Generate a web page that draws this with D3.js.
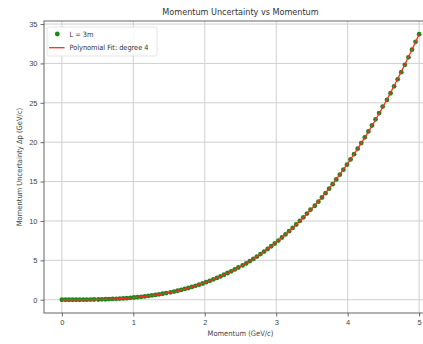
<!DOCTYPE html>
<html>
<head>
<meta charset="utf-8">
<script src="https://cdn.jsdelivr.net/npm/d3@7"></script>
<style>
  body { margin: 0; background: #fff; }
  svg { display: block; font-family: "DejaVu Sans Condensed", "DejaVu Sans", sans-serif; }
  .grid line { stroke: #cfcfcf; stroke-width: 1; }
  .tick text { fill: #444; }
</style>
</head>
<body>
<svg id="chart" width="423" height="344"></svg>
<script>
// Momentum (GeV/c), 100 samples
var momentum = [0.00,0.05,0.10,0.15,0.20,0.25,0.30,0.35,0.40,0.45,
                0.51,0.56,0.61,0.66,0.71,0.76,0.81,0.86,0.91,0.96,
                1.01,1.06,1.11,1.16,1.21,1.26,1.31,1.36,1.41,1.46,
                1.52,1.57,1.62,1.67,1.72,1.77,1.82,1.87,1.92,1.97,
                2.02,2.07,2.12,2.17,2.22,2.27,2.32,2.37,2.42,2.47,
                2.53,2.58,2.63,2.68,2.73,2.78,2.83,2.88,2.93,2.98,
                3.03,3.08,3.13,3.18,3.23,3.28,3.33,3.38,3.43,3.48,
                3.54,3.59,3.64,3.69,3.74,3.79,3.84,3.89,3.94,3.99,
                4.04,4.09,4.14,4.19,4.24,4.29,4.34,4.39,4.44,4.49,
                4.55,4.60,4.65,4.70,4.75,4.80,4.85,4.90,4.95,5.00];
// Momentum uncertainty, L = 3m
var uncertainty = [0.00,0.00,0.00,0.00,0.00,0.00,0.01,0.01,0.02,0.03,
                   0.03,0.05,0.06,0.08,0.10,0.12,0.14,0.17,0.20,0.24,
                   0.28,0.32,0.37,0.42,0.48,0.54,0.61,0.68,0.76,0.85,
                   0.94,1.04,1.14,1.25,1.37,1.49,1.62,1.76,1.91,2.06,
                   2.23,2.40,2.58,2.77,2.96,3.17,3.39,3.61,3.85,4.09,
                   4.35,4.61,4.89,5.18,5.48,5.79,6.11,6.44,6.79,7.14,
                   7.51,7.90,8.29,8.70,9.12,9.55,10.00,10.46,10.94,11.43,
                   11.93,12.45,12.98,13.53,14.10,14.67,15.27,15.88,16.51,17.15,
                   17.81,18.48,19.18,19.89,20.62,21.36,22.12,22.90,23.70,24.52,
                   25.36,26.21,27.09,27.98,28.89,29.82,30.77,31.74,32.74,33.70];
// Polynomial fit (degree 4)
var fitMomentum = [0.00,0.25,0.50,0.75,1.00,1.25,1.50,1.75,2.00,2.25,2.50,
                   2.75,3.00,3.25,3.50,3.75,4.00,4.25,4.50,4.75,5.00];
var fitValues = [0.00,0.00,0.03,0.11,0.27,0.53,0.91,1.45,2.16,3.08,4.22,
                 5.62,7.29,9.27,11.58,14.24,17.28,20.73,24.60,28.94,33.70];
var xTicks = [0, 1, 2, 3, 4, 5];
var yTicks = [0, 5, 10, 15, 20, 25, 30, 35];

var svg = d3.select('#chart');
var margin = { left: 44, top: 21, right: 437, bottom: 313 };

var x = d3.scaleLinear().domain([-0.25, 5.25]).range([margin.left, margin.right]);
var y = d3.scaleLinear().domain([-1.685, 35.385]).range([margin.bottom, margin.top]);

// gridlines
svg.append('g').attr('class', 'grid')
    .selectAll('line').data(xTicks).enter().append('line')
    .attr('x1', function(d) { return x(d); }).attr('x2', function(d) { return x(d); })
    .attr('y1', margin.top).attr('y2', margin.bottom);
svg.append('g').attr('class', 'grid')
    .selectAll('line').data(yTicks).enter().append('line')
    .attr('y1', function(d) { return y(d); }).attr('y2', function(d) { return y(d); })
    .attr('x1', margin.left).attr('x2', margin.right);

// axes
var xAxis = svg.append('g')
    .attr('transform', 'translate(0,' + margin.bottom + ')')
    .call(d3.axisBottom(x).tickValues(xTicks).tickSize(3.5).tickPadding(3).tickFormat(d3.format('d')));
var yAxis = svg.append('g')
    .attr('transform', 'translate(' + margin.left + ',0)')
    .call(d3.axisLeft(y).tickValues(yTicks).tickSize(3.5).tickPadding(3).tickFormat(d3.format('d')));
[xAxis, yAxis].forEach(function(a) {
    a.selectAll('.domain').remove();
    a.selectAll('.tick line').attr('stroke', '#444').attr('stroke-width', 0.8);
    a.selectAll('.tick text').style('font-size', '7.5px');
});

// spines
svg.append('rect')
    .attr('x', margin.left).attr('y', margin.top)
    .attr('width', margin.right - margin.left).attr('height', margin.bottom - margin.top)
    .attr('fill', 'none').attr('stroke', '#555').attr('stroke-width', 0.9);

// data points
svg.append('g').selectAll('circle')
    .data(momentum).enter().append('circle')
    .attr('cx', function(d) { return x(d); })
    .attr('cy', function(d, i) { return y(uncertainty[i]); })
    .attr('r', 2.4)
    .attr('fill', '#1a8a1a');

// fit line
var line = d3.line()
    .x(function(d) { return x(d); })
    .y(function(d, i) { return y(fitValues[i]); })
    .curve(d3.curveMonotoneX);
svg.append('path')
    .datum(fitMomentum)
    .attr('d', line)
    .attr('fill', 'none')
    .attr('stroke', '#ff2a2a')
    .attr('stroke-width', 1.3);

// title and labels
svg.append('text')
    .attr('x', 240.5).attr('y', 15)
    .attr('text-anchor', 'middle')
    .style('font-size', '9px').attr('fill', '#333')
    .text('Momentum Uncertainty vs Momentum');
svg.append('text')
    .attr('x', 240.5).attr('y', 336)
    .attr('text-anchor', 'middle')
    .style('font-size', '7.5px').attr('fill', '#444')
    .text('Momentum (GeV/c)');
svg.append('text')
    .attr('transform', 'translate(22,167) rotate(-90)')
    .attr('text-anchor', 'middle')
    .style('font-size', '7.5px').attr('fill', '#444')
    .text('Momentum Uncertainty Δp (GeV/c)');

// legend
var legend = svg.append('g');
legend.append('rect')
    .attr('x', 47).attr('y', 27).attr('width', 110).attr('height', 29).attr('rx', 2)
    .attr('fill', 'rgba(255,255,255,0.85)').attr('stroke', '#ddd').attr('stroke-width', 0.8);
legend.append('circle').attr('cx', 57.3).attr('cy', 34).attr('r', 2.4).attr('fill', '#1a8a1a');
legend.append('line').attr('x1', 49).attr('x2', 64.5).attr('y1', 47.7).attr('y2', 47.7)
    .attr('stroke', '#ff2a2a').attr('stroke-width', 1.3);
legend.append('text').attr('x', 69.5).attr('y', 36.6).style('font-size', '7.3px').attr('fill', '#333')
    .text('L = 3m');
legend.append('text').attr('x', 69.5).attr('y', 50.3).style('font-size', '7.3px').attr('fill', '#333')
    .text('Polynomial Fit: degree 4');
</script>
</body>
</html>
